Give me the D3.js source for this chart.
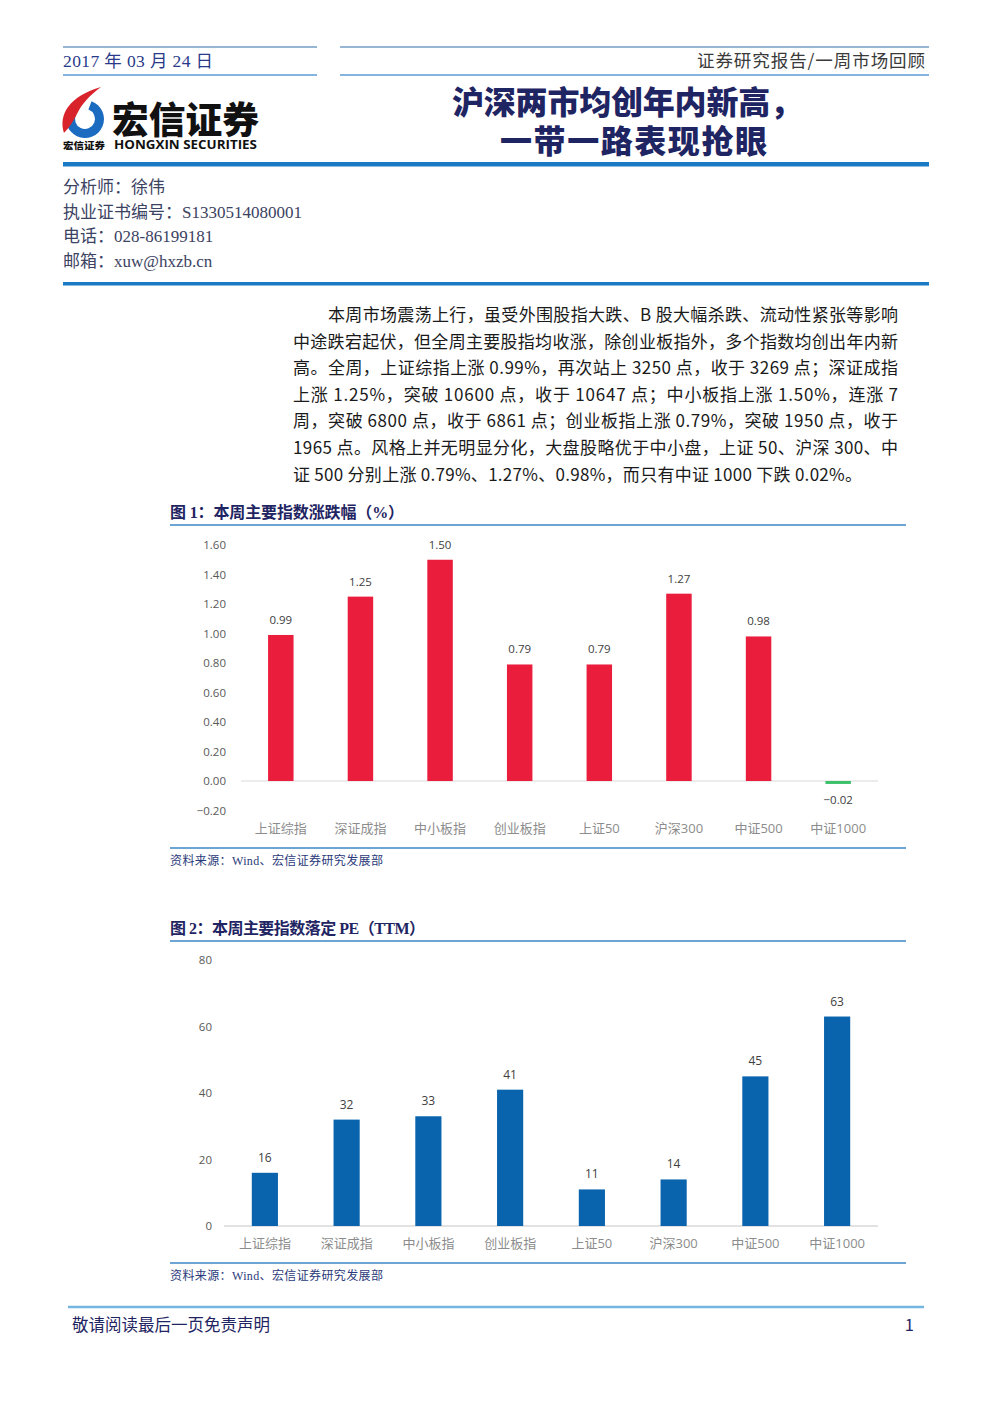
<!DOCTYPE html>
<html><head><meta charset="utf-8">
<script src="https://cdn.jsdelivr.net/npm/d3@7"></script>
<style>
html,body{margin:0;padding:0;background:#fff;}
svg{display:block;}
</style></head>
<body>
<svg id="page" width="992" height="1403"></svg>
<script>
// ---------- data ----------
const categories = ["上证综指","深证成指","中小板指","创业板指","上证50","沪深300","中证500","中证1000"];
const weeklyChange = [0.99, 1.25, 1.50, 0.79, 0.79, 1.27, 0.98, -0.02];
const peTTM = [16, 32, 33, 41, 11, 14, 45, 63];
const changeTicks = [-0.2, 0, 0.2, 0.4, 0.6, 0.8, 1.0, 1.2, 1.4, 1.6];
const peTicks = [0, 20, 40, 60, 80];
const chart1Title = "图 1：本周主要指数涨跌幅（%）";
const chart2Title = "图 2：本周主要指数落定 PE（TTM）";
const sourceText = "资料来源：Wind、宏信证券研究发展部";
const paragraphLines = [
  "本周市场震荡上行，虽受外围股指大跌、B 股大幅杀跌、流动性紧张等影响",
  "中途跌宕起伏，但全周主要股指均收涨，除创业板指外，多个指数均创出年内新",
  "高。全周，上证综指上涨 0.99%，再次站上 3250 点，收于 3269 点；深证成指",
  "上涨 1.25%，突破 10600 点，收于 10647 点；中小板指上涨 1.50%，连涨 7",
  "周，突破 6800 点，收于 6861 点；创业板指上涨 0.79%，突破 1950 点，收于",
  "1965 点。风格上并无明显分化，大盘股略优于中小盘，上证 50、沪深 300、中",
  "证 500 分别上涨 0.79%、1.27%、0.98%，而只有中证 1000 下跌 0.02%。"
];
const analystLines = ["分析师：徐伟", "执业证书编号：S1330514080001", "电话：028-86199181", "邮箱：xuw@hxzb.cn"];

const svg = d3.select("#page");
const SERIF = "'Liberation Serif','Noto Sans CJK SC',serif";
const SANS = "'Noto Sans CJK SC','Noto Sans',sans-serif";
const NAVY = "#1f2563";
const LINEBLUE = "#3b86c6";

// ---------- header ----------
function hline(x1, x2, y, color, w) {
  svg.append("line").attr("x1", x1).attr("x2", x2).attr("y1", y).attr("y2", y)
    .attr("stroke", color).attr("stroke-width", w);
}
hline(63, 317, 47, "#2f6fa8", 1.2);
hline(340, 929, 47, "#2f6fa8", 1.2);
hline(63, 317, 75, "#5b9bd5", 1.5);
hline(340, 929, 75, "#5b9bd5", 1.5);
svg.append("text").attr("x", 63).attr("y", 67).text("2017 年 03 月 24 日")
  .attr("font-family", SERIF).attr("font-size", 17.5).attr("fill", "#2a3a8a")
  .attr("textLength", 150).attr("lengthAdjust", "spacing");
svg.append("text").attr("x", 925).attr("y", 67).attr("text-anchor", "end").text("证券研究报告/一周市场回顾")
  .attr("font-family", SANS).attr("font-size", 17.5).attr("fill", "#3a3a3a")
  .attr("textLength", 228).attr("lengthAdjust", "spacing");

// title
svg.append("text").attr("x", 452).attr("y", 114).text("沪深两市均创年内新高，")
  .attr("font-family", SANS).attr("font-weight", 900).attr("font-size", 32).attr("fill", NAVY)
  .attr("textLength", 350).attr("lengthAdjust", "spacing");
svg.append("text").attr("x", 500).attr("y", 153).text("一带一路表现抢眼")
  .attr("font-family", SANS).attr("font-weight", 900).attr("font-size", 32).attr("fill", NAVY)
  .attr("textLength", 267).attr("lengthAdjust", "spacing");
svg.append("rect").attr("x", 63).attr("y", 162).attr("width", 866).attr("height", 4.5).attr("fill", "#1a7ac4");

// logo
const logo = svg.append("g");
logo.append("path")
  .attr("transform", "translate(85,119)")
  .attr("d", d3.arc().innerRadius(10).outerRadius(19).startAngle(0.35).endAngle(5.2)())
  .attr("fill", "#1b6cc0");
logo.append("path")
  .attr("d", "M64,133 C58,114 70,96 101,87 C90,95 82,104 78,112 C74,120 70,127 64,133 Z")
  .attr("fill", "#d8232b");
logo.append("text").attr("x", 112).attr("y", 134).text("宏信证券")
  .attr("font-family", SANS).attr("font-weight", 900).attr("font-size", 37).attr("fill", "#111")
  .attr("textLength", 147).attr("lengthAdjust", "spacingAndGlyphs");
logo.append("text").attr("x", 63).attr("y", 149).text("宏信证券")
  .attr("font-family", SANS).attr("font-weight", 900).attr("font-size", 9.5).attr("fill", "#111")
  .attr("textLength", 42).attr("lengthAdjust", "spacingAndGlyphs");
logo.append("text").attr("x", 114).attr("y", 149).text("HONGXIN SECURITIES")
  .attr("font-family", "'Open Sans','DejaVu Sans',sans-serif").attr("font-weight", 700).attr("font-size", 12.5).attr("fill", "#111")
  .attr("textLength", 143).attr("lengthAdjust", "spacingAndGlyphs");

// analyst
svg.selectAll("text.analyst").data(analystLines).enter().append("text").attr("class", "analyst")
  .attr("x", 63).attr("y", (d, i) => 193 + i * 24.7).text(d => d)
  .attr("font-family", SERIF).attr("font-size", 17).attr("fill", "#3b4262");
svg.append("rect").attr("x", 63).attr("y", 282).attr("width", 866).attr("height", 3.5).attr("fill", "#1a7ac4");

// paragraph
svg.selectAll("text.para").data(paragraphLines).enter().append("text").attr("class", "para")
  .attr("x", (d, i) => i === 0 ? 328 : 293)
  .attr("y", (d, i) => 321 + i * 26.6)
  .text(d => d)
  .attr("font-family", SANS).attr("font-size", 17).attr("fill", "#1a1a1a")
  .each(function (d, i) {
    if (i < paragraphLines.length - 1) {
      d3.select(this).attr("textLength", i === 0 ? 570 : 605).attr("lengthAdjust", "spacing");
    } else {
      d3.select(this).attr("textLength", 569).attr("lengthAdjust", "spacing");
    }
  });

// ---------- chart helper ----------
function chartFrame(title, titleLen, titleY, topLineY, bottomLineY) {
  svg.append("text").attr("x", 170).attr("y", titleY).text(title)
    .attr("font-family", SERIF).attr("font-weight", 700).attr("font-size", 16).attr("fill", NAVY)
    .attr("textLength", titleLen).attr("lengthAdjust", "spacing");
  hline(170, 906, topLineY, LINEBLUE, 1.6);
  hline(170, 906, bottomLineY, LINEBLUE, 1.6);
  svg.append("text").attr("x", 170).attr("y", bottomLineY + 17).text(sourceText)
    .attr("font-family", SERIF).attr("font-size", 12).attr("fill", "#2a3a7a")
    .attr("textLength", 213).attr("lengthAdjust", "spacing");
}

function styleAxisText(g, color, size) {
  g.select(".domain").remove();
  g.selectAll("line").remove();
  g.selectAll("text").attr("fill", color).attr("font-size", size)
    .attr("font-family", "'Open Sans','Noto Sans CJK SC',sans-serif");
}

// ---------- chart 1 ----------
chartFrame(chart1Title, 234, 518, 525, 848);
const x1 = d3.scaleBand().domain(categories).range([241, 878]).paddingInner(0.68).paddingOuter(0.34);
const y1 = d3.scaleLinear().domain([-0.2, 1.6]).range([810.5, 545]);

svg.append("g").attr("transform", "translate(226,0)")
  .call(d3.axisLeft(y1).tickValues(changeTicks).tickSize(0).tickPadding(0).tickFormat(d3.format(".2f")))
  .call(g => styleAxisText(g, "#595959", 11.5));
hline(241, 878, y1(0), "#d9d9d9", 1);
svg.append("g").attr("transform", "translate(0,823.5)")
  .call(d3.axisBottom(x1).tickSize(0).tickPadding(0))
  .call(g => styleAxisText(g, "#8c8c8c", 13));

svg.selectAll("rect.b1").data(weeklyChange).enter().append("rect").attr("class", "b1")
  .attr("x", (d, i) => x1(categories[i]))
  .attr("width", x1.bandwidth())
  .attr("y", d => d >= 0 ? y1(d) : y1(0))
  .attr("height", d => Math.abs(y1(d) - y1(0)))
  .attr("fill", d => d >= 0 ? "#ea1d3d" : "#3cc06a");
svg.selectAll("text.l1").data(weeklyChange).enter().append("text").attr("class", "l1")
  .attr("x", (d, i) => x1(categories[i]) + x1.bandwidth() / 2)
  .attr("y", d => d >= 0 ? y1(d) - 11 : y1(0) + 23)
  .attr("text-anchor", "middle").text(d => d3.format(".2f")(d))
  .attr("font-family", "'Open Sans',sans-serif").attr("font-size", 11.5).attr("fill", "#404040");

// ---------- chart 2 ----------
chartFrame(chart2Title, 255, 934, 941, 1263);
const x2 = d3.scaleBand().domain(categories).range([224, 878]).paddingInner(0.68).paddingOuter(0.34);
const y2 = d3.scaleLinear().domain([0, 80]).range([1226, 960]);

svg.append("g").attr("transform", "translate(212,0)")
  .call(d3.axisLeft(y2).tickValues(peTicks).tickSize(0).tickPadding(0))
  .call(g => styleAxisText(g, "#595959", 11.5));
hline(224, 878, y2(0), "#d9d9d9", 1.5);
svg.append("g").attr("transform", "translate(0,1238.5)")
  .call(d3.axisBottom(x2).tickSize(0).tickPadding(0))
  .call(g => styleAxisText(g, "#8c8c8c", 13));

svg.selectAll("rect.b2").data(peTTM).enter().append("rect").attr("class", "b2")
  .attr("x", (d, i) => x2(categories[i]))
  .attr("width", x2.bandwidth())
  .attr("y", d => y2(d))
  .attr("height", d => y2(0) - y2(d))
  .attr("fill", "#0964ad");
svg.selectAll("text.l2").data(peTTM).enter().append("text").attr("class", "l2")
  .attr("x", (d, i) => x2(categories[i]) + x2.bandwidth() / 2)
  .attr("y", d => y2(d) - 11)
  .attr("text-anchor", "middle").text(d => d)
  .attr("font-family", "'Open Sans',sans-serif").attr("font-size", 12).attr("fill", "#404040");

// ---------- footer ----------
hline(68, 924, 1307, "#74b6e2", 2.5);
svg.append("text").attr("x", 72).attr("y", 1331).text("敬请阅读最后一页免责声明")
  .attr("font-family", SANS).attr("font-size", 16.5).attr("fill", NAVY)
  .attr("textLength", 198).attr("lengthAdjust", "spacing");
svg.append("text").attr("x", 914).attr("y", 1331).attr("text-anchor", "end").text("1")
  .attr("font-family", SANS).attr("font-size", 16.5).attr("fill", NAVY);
</script>
</body></html>
